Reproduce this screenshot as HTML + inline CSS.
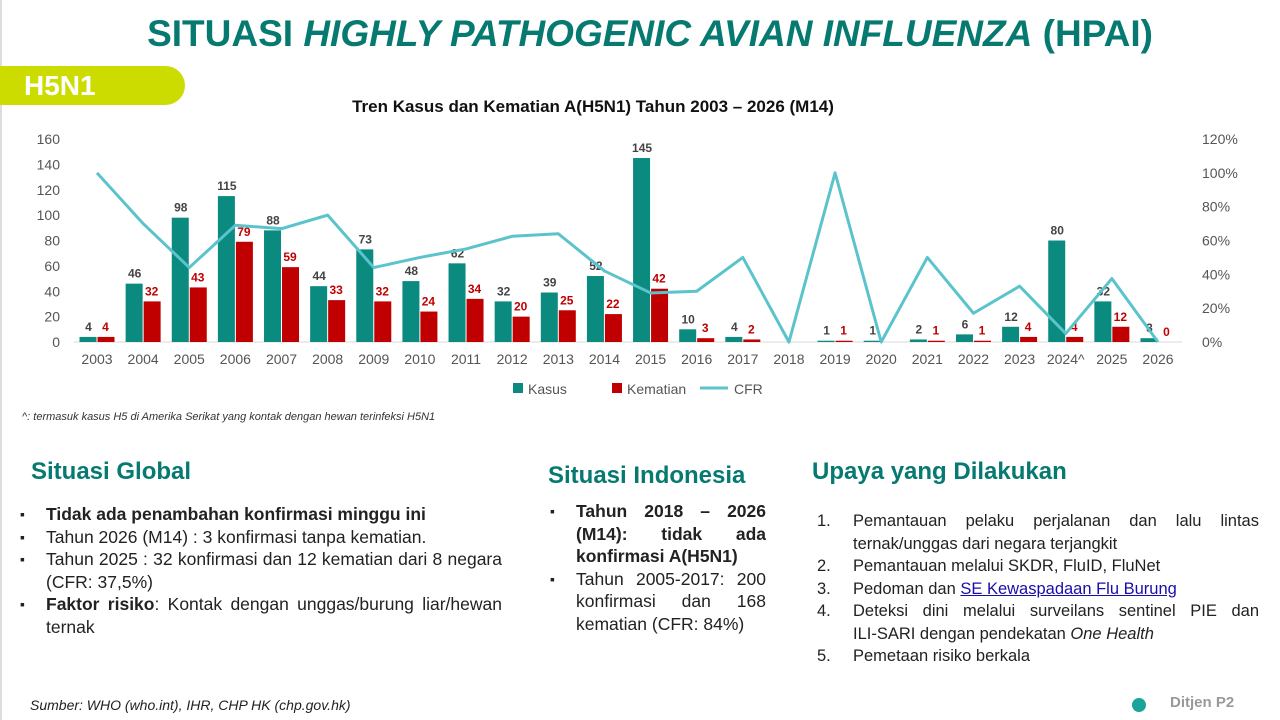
<!DOCTYPE html>
<html><head><meta charset="utf-8">
<style>
body{margin:0;width:1280px;height:720px;background:#fff;position:relative;overflow:hidden;font-family:"Liberation Sans",sans-serif;}
.abs{position:absolute;}
h1{position:absolute;left:0;width:1300px;text-align:center;top:13px;margin:0;font-size:37px;color:#067a70;font-weight:bold;letter-spacing:0px}
.pill{left:0;top:66px;width:185px;height:39px;background:#cddc00;border-radius:0 20px 20px 0;color:#fff;font-weight:bold;font-size:28px;line-height:39px;padding-left:24px;box-sizing:border-box}
.sec{color:#067a70;font-weight:bold;font-size:24px}
ul{margin:0;padding:0;list-style:none}
li{position:relative;padding-left:30px;font-size:17.5px;line-height:22.5px;color:#222;text-align:justify}
li:before{content:"▪";position:absolute;left:4px;top:0;font-size:14px}
ol{margin:0;padding:0;list-style:none}
ol li:before{content:none}
ol li{padding-left:36px;font-size:16.5px;line-height:22.5px}
ol li span.n{position:absolute;left:0}
</style></head><body>
<div class="abs" style="left:0;top:0;width:2px;height:720px;background:#ddd"></div>
<h1>SITUASI <i>HIGHLY PATHOGENIC AVIAN INFLUENZA</i> (HPAI)</h1>
<div class="abs pill">H5N1</div>
<svg id="chart" class="abs" style="left:0;top:90px" width="1280" height="320"></svg>
<div class="abs" style="left:22px;top:411px;font-size:11px;font-style:italic;color:#333">^: termasuk kasus H5 di Amerika Serikat yang kontak dengan hewan terinfeksi H5N1</div>

<div class="abs sec" style="left:31px;top:458px">Situasi Global</div>
<ul class="abs" style="left:16px;top:503px;width:486px">
<li><b>Tidak ada penambahan konfirmasi minggu ini</b></li>
<li>Tahun 2026 (M14) : 3 konfirmasi tanpa kematian.</li>
<li>Tahun 2025 : 32 konfirmasi dan 12 kematian dari 8 negara (CFR: 37,5%)</li>
<li><b>Faktor risiko</b>: Kontak dengan unggas/burung liar/hewan ternak</li>
</ul>
<div class="abs sec" style="left:548px;top:462px">Situasi Indonesia</div>
<ul class="abs" style="left:546px;top:500px;width:220px">
<li><b>Tahun 2018 – 2026 (M14): tidak ada konfirmasi A(H5N1)</b></li>
<li>Tahun 2005-2017: 200 konfirmasi dan 168 kematian (CFR: 84%)</li>
</ul>
<div class="abs sec" style="left:812px;top:458px">Upaya yang Dilakukan</div>
<ol class="abs" style="left:817px;top:510px;width:442px">
<li style="text-align:justify"><span class="n">1.</span>Pemantauan pelaku perjalanan dan lalu lintas ternak/unggas dari negara terjangkit</li>
<li><span class="n">2.</span>Pemantauan melalui SKDR, FluID, FluNet</li>
<li><span class="n">3.</span>Pedoman dan <a href="#" style="color:#1a0dab">SE Kewaspadaan Flu Burung</a></li>
<li style="text-align:justify"><span class="n">4.</span>Deteksi dini melalui surveilans sentinel PIE dan ILI‑SARI dengan pendekatan <i>One Health</i></li>
<li><span class="n">5.</span>Pemetaan risiko berkala</li>
</ol>
<div class="abs" style="left:30px;top:697px;font-size:14px;font-style:italic;color:#222">Sumber: WHO (who.int), IHR, CHP HK (chp.gov.hk)</div>
<div class="abs" style="left:1132px;top:698px;width:14px;height:14px;border-radius:50%;background:#1aa49a"></div>
<div class="abs" style="left:1170px;top:694px;font-size:15px;color:#999;font-weight:bold">Ditjen P2</div>

<script>
const years=["2003","2004","2005","2006","2007","2008","2009","2010","2011","2012","2013","2014","2015","2016","2017","2018","2019","2020","2021","2022","2023","2024^","2025","2026"];
const kasus=[4,46,98,115,88,44,73,48,62,32,39,52,145,10,4,0,1,1,2,6,12,80,32,3];
const kematian=[4,32,43,79,59,33,32,24,34,20,25,22,42,3,2,0,1,0,1,1,4,4,12,0];
const cfr=[100,70,44,69,67,75,44,50,55,62.5,64,42,29,30,50,0,100,0,50,17,33,5,37.5,0];
const leftTicks=[0,20,40,60,80,100,120,140,160];
const rightTicks=[0,20,40,60,80,100,120];
const svg=document.getElementById('chart');const NS='http://www.w3.org/2000/svg';
const OY=90;
function mk(t,a,txt){const e=document.createElementNS(NS,t);for(const k in a)e.setAttribute(k,a[k]);if(txt!==undefined)e.textContent=txt;svg.appendChild(e);return e;}
const x0=97,dx=46.13;
const xs=i=>x0+i*dx;
const yL=v=>342-OY-v*(203/160);
const yR=v=>342-OY-v*(203/120);
let e=mk('text',{x:593,y:22,'text-anchor':'middle','font-size':17,'font-weight':'bold',fill:'#111'},'Tren Kasus dan Kematian A(H5N1) Tahun 2003 – 2026 (M14)');

leftTicks.forEach(v=>{const t=mk('text',{x:60,y:yL(v)+5,'text-anchor':'end','font-size':14,fill:'#555'},v);});
rightTicks.forEach(v=>{const t=mk('text',{x:1202,y:yR(v)+5,'font-size':14,fill:'#555'},v+'%');});
const ax=mk('line',{x1:74,x2:1182,y1:yL(0),y2:yL(0),stroke:'#d9d9d9'});

const bw=17;
years.forEach((yr,i)=>{
 const c=xs(i);
 const t=mk('text',{x:c,y:yL(0)+22,'text-anchor':'middle','font-size':14,fill:'#555'},yr);
 
 if(kasus[i]>0){
  const b=mk('rect',{x:c-bw-0.5,y:yL(kasus[i]),width:bw,height:yL(0)-yL(kasus[i]),fill:'#0b8a80'});
  
  const l=mk('text',{x:c-bw/2,y:yL(kasus[i])-6,'text-anchor':'middle','font-size':12,'font-weight':'bold',fill:'#444'},kasus[i]);
  
 }
 if(kematian[i]>0){
  const b=mk('rect',{x:c+0.5,y:yL(kematian[i]),width:bw,height:yL(0)-yL(kematian[i]),fill:'#c00000'});
  
 }
 if(kasus[i]>0 && !(kematian[i]===0 && yr==='2020')){
  const l=mk('text',{x:c+bw/2,y:yL(kematian[i])-6,'text-anchor':'middle','font-size':12,'font-weight':'bold',fill:'#c00000'},kematian[i]);
  
 }
});
const pts=cfr.map((v,i)=>xs(i)+','+yR(v)).join(' ');
const pl=mk('polyline',{points:pts,fill:'none',stroke:'#5bc3cc','stroke-width':3,'stroke-linejoin':'round'});

const lg=[['Kasus','#0b8a80',513,'r'],['Kematian','#c00000',612,'r'],['CFR','#5bc3cc',700,'l']];
lg.forEach(([n,c,x,k])=>{
 let m;
 if(k==='r')m=mk('rect',{x:x,y:293,width:10,height:10,fill:c});
 else m=mk('line',{x1:x,x2:x+28,y1:298,y2:298,stroke:c,'stroke-width':3});
 
 const t=mk('text',{x:x+(k==='r'?15:34),y:304,'font-size':14,fill:'#555'},n);
 
});
</script>
</body></html>
